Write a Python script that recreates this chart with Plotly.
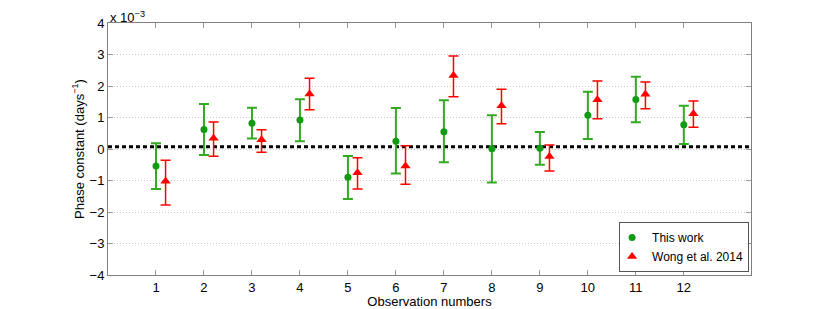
import plotly.graph_objects as go

# Observation numbers
obs = [1, 2, 3, 4, 5, 6, 7, 8, 9, 10, 11, 12]

# This work (units of 1e-3 days^-1)
this_val = [-0.54, 0.62, 0.82, 0.92, -0.90, 0.25, 0.55, 0.01, 0.02, 1.07, 1.57, 0.77]
this_hi = [0.18, 1.43, 1.31, 1.58, -0.22, 1.30, 1.55, 1.07, 0.54, 1.82, 2.29, 1.37]
this_lo = [-1.27, -0.19, 0.33, 0.25, -1.59, -0.78, -0.42, -1.06, -0.50, 0.32, 0.85, 0.16]

# Wong et al. 2014 (units of 1e-3 days^-1)
wong_val = [-1.02, 0.34, 0.29, 1.75, -0.75, -0.54, 2.33, 1.37, -0.24, 1.56, 1.74, 1.12]
wong_hi = [-0.36, 0.86, 0.61, 2.25, -0.28, 0.10, 2.95, 1.90, 0.13, 2.16, 2.13, 1.52]
wong_lo = [-1.78, -0.23, -0.10, 1.25, -1.27, -1.12, 1.66, 0.80, -0.70, 0.96, 1.28, 0.69]

mean_level = 0.07
wong_offset = 0.2

FONT = "Liberation Sans, Arial, Helvetica, sans-serif"

fig = go.Figure()

fig.add_trace(go.Scatter(
    x=obs, y=this_val, mode="markers", name="This work",
    marker=dict(symbol="circle", size=7, color="#139a13"),
    error_y=dict(type="data", symmetric=False,
                 array=[h - v for h, v in zip(this_hi, this_val)],
                 arrayminus=[v - l for v, l in zip(this_val, this_lo)],
                 color="#33aa22", thickness=2, width=5),
))

fig.add_trace(go.Scatter(
    x=[o + wong_offset for o in obs], y=wong_val, mode="markers", name="Wong et al. 2014",
    marker=dict(symbol="triangle-up", size=9, color="#ff0000"),
    error_y=dict(type="data", symmetric=False,
                 array=[h - v for h, v in zip(wong_hi, wong_val)],
                 arrayminus=[v - l for v, l in zip(wong_val, wong_lo)],
                 color="#ff0000", thickness=1.5, width=5),
))

fig.add_shape(type="line", xref="paper", x0=0, x1=1, yref="y", y0=mean_level, y1=mean_level,
              line=dict(color="black", width=3, dash="4px,3px"), layer="below")

# The page body has an 8px default margin; the figure is sized to fit the 830x309 window.
fig.update_layout(
    width=822, height=301,
    margin=dict(l=100, r=79, t=15, b=34, autoexpand=False),
    paper_bgcolor="white", plot_bgcolor="white",
    font=dict(family=FONT, size=13, color="black"),
    showlegend=True,
    legend=dict(x=0.997, y=0.012, xanchor="right", yanchor="bottom",
                bgcolor="white", bordercolor="#555555", borderwidth=1,
                font=dict(size=12), tracegroupgap=0, itemwidth=30, indentation=-8),
    xaxis=dict(range=[0, 13.4], tickmode="array", tickvals=obs,
               ticktext=[str(o) for o in obs],
               ticks="inside", ticklen=5, tickcolor="#999999",
               showline=True, linecolor="#808080", linewidth=1, mirror="ticks",
               showgrid=False, zeroline=False, automargin=False,
               title=dict(text="Observation numbers", standoff=0, font=dict(size=13))),
    yaxis=dict(range=[-4, 4], tickmode="array", tickvals=[-4, -3, -2, -1, 0, 1, 2, 3, 4],
               ticktext=["\u22124", "\u22123", "\u22122", "\u22121", "0", "1", "2", "3", "4"],
               ticks="inside", ticklen=5, tickcolor="#999999",
               showline=True, linecolor="#808080", linewidth=1, mirror="ticks",
               showgrid=True, gridcolor="#c8c8c8", griddash="1px,2px", gridwidth=1,
               zeroline=False, automargin=False,
               title=dict(text="Phase constant (days<sup>\u22121</sup>)", standoff=2,
                          font=dict(size=13))),
    annotations=[dict(text="x 10<sup>\u22123</sup>", xref="paper", yref="paper",
                      x=0.0, y=1.0, xanchor="left", yanchor="bottom",
                      showarrow=False, font=dict(size=13), xshift=0, yshift=-4)],
)

fig.write_html("out.html")
